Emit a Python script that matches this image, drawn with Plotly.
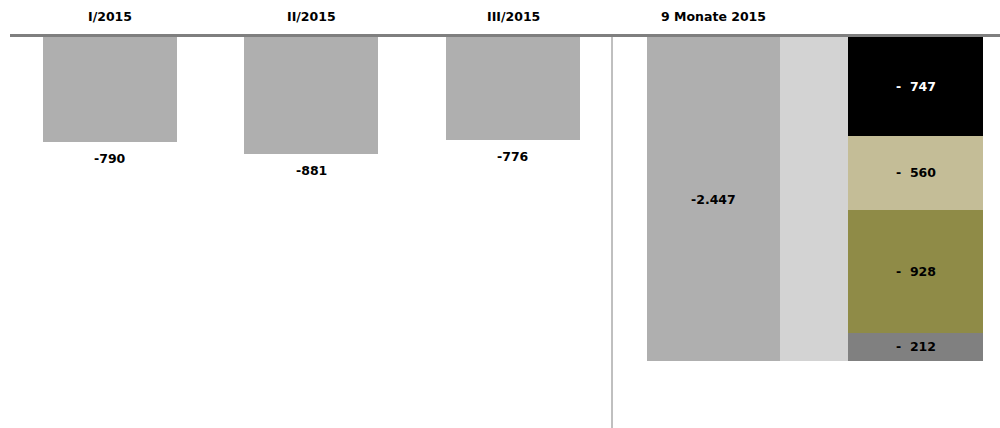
import plotly.graph_objects as go

# Data
quarters = ["I/2015", "II/2015", "III/2015"]
quarter_values = [-790, -881, -776]
total_label = "9 Monate 2015"
total_value = -2447
segment_names = ["A", "B", "C", "D"]
segment_values = [-747, -560, -928, -212]
segment_colors = ["#000000", "#C4BD97", "#8F8B47", "#808080"]
segment_text_colors = ["#FFFFFF", "#000000", "#000000", "#000000"]

# Layout constants (pixel-like x axis)
quarter_x = [110, 311, 513]
bar_w = 134
total_x = 713.5
bridge_x = 814
bridge_w = 68
stack_x = 915.5
stack_w = 135

def de_fmt(v):
    s = f"{abs(v):,}".replace(",", ".")
    return ("-" if v < 0 else "") + s

FONT = "DejaVu Sans, Arial, sans-serif"
FS = 12.5
fig = go.Figure()

fig.add_trace(go.Bar(x=quarter_x, y=quarter_values, width=[bar_w]*3,
                     marker=dict(color="#AFAFAF", line=dict(width=0)), showlegend=False))
fig.add_trace(go.Bar(x=[total_x], y=[total_value], width=[133],
                     marker=dict(color="#AFAFAF", line=dict(width=0)), showlegend=False))
fig.add_trace(go.Bar(x=[bridge_x], y=[total_value], width=[bridge_w],
                     marker=dict(color="#D3D3D3", line=dict(width=0)), showlegend=False))

base = 0
for name, v, c, tc in zip(segment_names, segment_values, segment_colors, segment_text_colors):
    fig.add_trace(go.Bar(x=[stack_x], y=[v], base=[base], width=[stack_w],
                         marker=dict(color=c, line=dict(width=0)), showlegend=False))
    fig.add_annotation(x=stack_x, y=base + v / 2, text="-\u00a0\u00a0" + de_fmt(abs(v)),
                       showarrow=False, font=dict(family=FONT, size=FS, color=tc, weight="bold"))
    base += v

for xq, v, lab in zip(quarter_x, quarter_values, quarters):
    fig.add_annotation(x=xq, y=v, text=de_fmt(v), showarrow=False, yshift=-17,
                       font=dict(family=FONT, size=FS, color="#000000", weight="bold"))
    fig.add_annotation(x=xq, y=1, yref="paper", text=lab, showarrow=False, yanchor="bottom", yshift=11,
                       font=dict(family=FONT, size=FS, color="#000000", weight="bold"))

fig.add_annotation(x=total_x, y=total_value / 2, text=de_fmt(total_value), showarrow=False,
                   font=dict(family=FONT, size=FS, color="#000000", weight="bold"))
fig.add_annotation(x=total_x, y=1, yref="paper", text=total_label, showarrow=False, yanchor="bottom", yshift=11,
                   font=dict(family=FONT, size=FS, color="#000000", weight="bold"))

# separator lines
fig.add_shape(type="line", x0=612, x1=612, y0=0, y1=1, yref="paper", xref="x",
              line=dict(color="#808080", width=1))
fig.add_shape(type="line", x0=0.01, x1=1.0, xref="paper", yref="paper",
              ysizemode="pixel", yanchor=1, y0=1.5, y1=1.5,
              line=dict(color="#7F7F7F", width=3))

fig.update_layout(
    width=1000, height=428,
    margin=dict(l=0, r=0, t=37, b=0),
    paper_bgcolor="white", plot_bgcolor="white",
    barmode="overlay", bargap=0,
    xaxis=dict(range=[0, 1000], visible=False, fixedrange=True),
    yaxis=dict(range=[-2953, 0], visible=False, fixedrange=True),
)
fig.write_html("out.html", post_script="document.body.style.margin='0';document.body.style.overflow='hidden';",
               config={"displayModeBar": False})
